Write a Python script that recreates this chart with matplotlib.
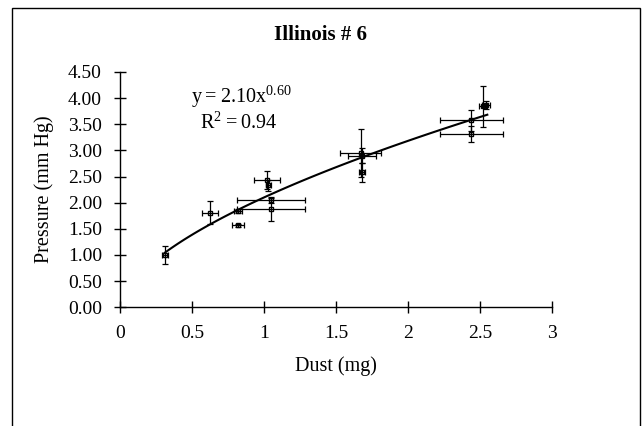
import matplotlib.pyplot as plt
import matplotlib.patches as mpatches
import numpy as np

plt.rcParams['font.family'] = 'Liberation Serif'
plt.rcParams['mathtext.fontset'] = 'custom'
plt.rcParams['mathtext.rm'] = 'Liberation Serif'

# measured points: dust (mg), pressure (mm Hg) and their error bars
dust = [0.31, 0.625, 0.82, 0.82, 1.02, 1.03, 1.05, 1.05, 1.67, 1.68, 1.68, 2.44, 2.44, 2.52, 2.54]
pressure = [1.00, 1.81, 1.84, 1.57, 2.43, 2.33, 2.05, 1.87, 2.95, 2.90, 2.58, 3.58, 3.31, 3.84, 3.87]
dust_err = [0.02, 0.055, 0.03, 0.04, 0.09, 0.02, 0.235, 0.235, 0.14, 0.10, 0.02, 0.22, 0.22, 0.03, 0.03]
pres_err = [0.17, 0.22, 0.04, 0.03, 0.17, 0.10, 0.05, 0.22, 0.45, 0.15, 0.18, 0.20, 0.15, 0.40, 0.08]

# power fit y = a * x^b
a, b = 2.10, 0.60
r2 = 0.94

fig = plt.figure(figsize=(6.42, 4.26), dpi=100)
ax = fig.add_axes([0.187, 0.279, 0.673, 0.552])

ax.errorbar(dust, pressure, xerr=dust_err, yerr=pres_err, fmt='s', ms=2.5,
            mfc='none', mec='black', ecolor='black', elinewidth=0.9, capsize=2.5,
            capthick=0.9, color='black')

xf = np.linspace(min(dust), max(dust) + 0.01, 100)
ax.plot(xf, a * xf ** b, color='black', lw=1.5)

ax.set_xlim(0, 3)
ax.set_ylim(0, 4.5)
ax.set_xticks(np.arange(0, 3.01, 0.5))
ax.set_xticklabels(['0', '0.5', '1', '1.5', '2', '2.5', '3'])
ax.set_yticks(np.arange(0, 4.51, 0.5))
ax.set_yticklabels(['%.2f' % v for v in np.arange(0, 4.51, 0.5)])
ax.tick_params(direction='inout', length=8, width=1, labelsize=14)
ax.tick_params(axis='x', pad=9)
ax.tick_params(axis='y', pad=9)
ax.spines['top'].set_visible(False)
ax.spines['right'].set_visible(False)
ax.spines['left'].set_linewidth(1)
ax.spines['bottom'].set_linewidth(1)
ax.set_xlabel('Dust (mg)', fontsize=14.5, labelpad=10)
ax.set_ylabel('Pressure (mm Hg)', fontsize=14.5, labelpad=10)

ax.text(0.84, 4.02, r'$\mathregular{y = %.2fx^{%.2f}}$' % (a, b), fontsize=14.5,
        ha='center', va='center')
ax.text(0.82, 3.52, r'$\mathregular{R^2 = %.2f}$' % r2, fontsize=14.5,
        ha='center', va='center')

fig.text(321 / 642, 1 - 35 / 426, 'Illinois # 6', fontsize=15, fontweight='bold',
         ha='center', va='center')

# frame around the chart area
fig.patches.append(mpatches.Rectangle((12 / 642, -0.05), 628 / 642, 1 - 8 / 426 + 0.05,
                                      transform=fig.transFigure, fill=False,
                                      edgecolor='black', lw=1))

fig.savefig('out.png', dpi=100)
